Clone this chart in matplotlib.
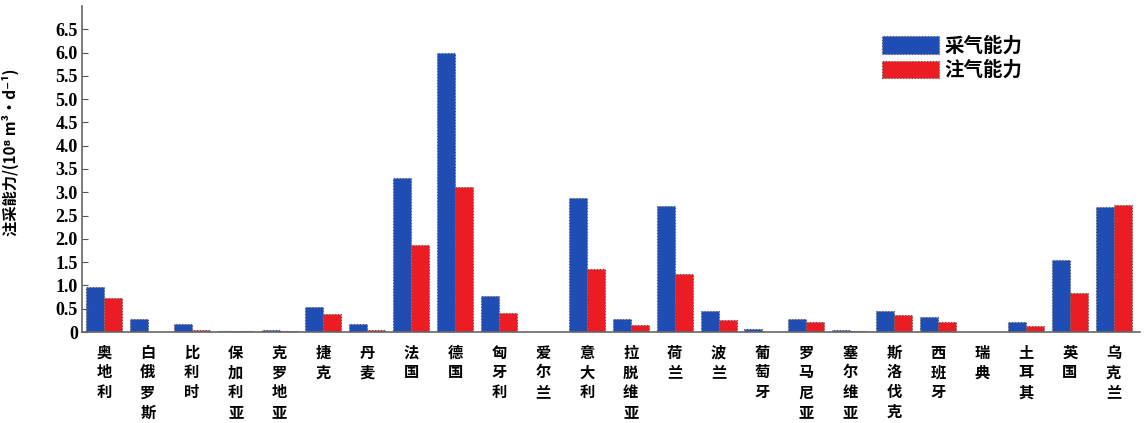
import matplotlib
matplotlib.use("Agg")
import matplotlib.pyplot as plt
import numpy as np

plt.rcParams['font.family'] = ['Noto Sans CJK SC', 'DejaVu Sans']

countries = ["奥地利", "白俄罗斯", "比利时", "保加利亚", "克罗地亚", "捷克", "丹麦", "法国",
             "德国", "匈牙利", "爱尔兰", "意大利", "拉脱维亚", "荷兰", "波兰", "葡萄牙",
             "罗马尼亚", "塞尔维亚", "斯洛伐克", "西班牙", "瑞典", "土耳其", "英国", "乌克兰"]
withdrawal = [0.97, 0.28, 0.17, 0.03, 0.05, 0.54, 0.17, 3.30,
              6.00, 0.78, 0.01, 2.88, 0.28, 2.70, 0.45, 0.07,
              0.27, 0.04, 0.45, 0.32, 0.01, 0.22, 1.54, 2.68]
injection = [0.73, 0.0, 0.05, 0.03, 0.03, 0.39, 0.05, 1.87,
             3.11, 0.41, 0.0, 1.35, 0.15, 1.24, 0.26, 0.0,
             0.22, 0.03, 0.37, 0.21, 0.0, 0.14, 0.83, 2.72]
yticks = [0, 0.5, 1.0, 1.5, 2.0, 2.5, 3.0, 3.5, 4.0, 4.5, 5.0, 5.5, 6.0, 6.5]
ytick_labels = ["0", "0.5", "1.0", "1.5", "2.0", "2.5", "3.0", "3.5", "4.0", "4.5",
                "5.0", "5.5", "6.0", "6.5"]
legend_labels = ["采气能力", "注气能力"]
ylabel = "注采能力/(10⁸ m³·d⁻¹)"

fig = plt.figure(figsize=(11.45, 4.23), dpi=100)
ax = fig.add_axes([0.0716, 0.215, 0.924, 0.771])

x = np.arange(len(countries))
w = 0.41
ax.bar(x - w / 2, withdrawal, w, color="#1f4db3", edgecolor="#555555",
       linewidth=0.8, linestyle=":", label=legend_labels[0])
ax.bar(x + w / 2, injection, w, color="#ec1c24", edgecolor="#555555",
       linewidth=0.8, linestyle=":", label=legend_labels[1])

ax.set_xlim(-0.5, len(countries) - 1 + 0.6)
ax.set_ylim(0, 7.0)
ax.set_yticks(yticks)
ax.set_yticklabels(ytick_labels, family=['Liberation Serif'], fontweight='bold', fontsize=13)
ax.set_xticks(x)
ax.set_xticklabels(["\n".join(c) for c in countries], fontsize=11, fontweight='bold',
                   linespacing=1.3, va='top')
ax.tick_params(axis='x', length=0, pad=9)
ax.tick_params(axis='y', direction='in', length=4, width=0.8, color="#555555", pad=3)
ax.set_ylabel(ylabel, fontsize=11, fontweight='bold')
ax.yaxis.set_label_coords(-0.06, 0.55)

for s in ["top", "right"]:
    ax.spines[s].set_visible(False)
for s in ["left", "bottom"]:
    ax.spines[s].set_color("#666666")
    ax.spines[s].set_linewidth(1.2)

leg = ax.legend(loc="upper left", bbox_to_anchor=(0.74, 0.96), frameon=False,
                handlelength=2.9, handleheight=1.0, handletextpad=0.3,
                labelspacing=0.25, prop={'size': 14, 'weight': 'bold'})

fig.savefig("out.png", dpi=100)
